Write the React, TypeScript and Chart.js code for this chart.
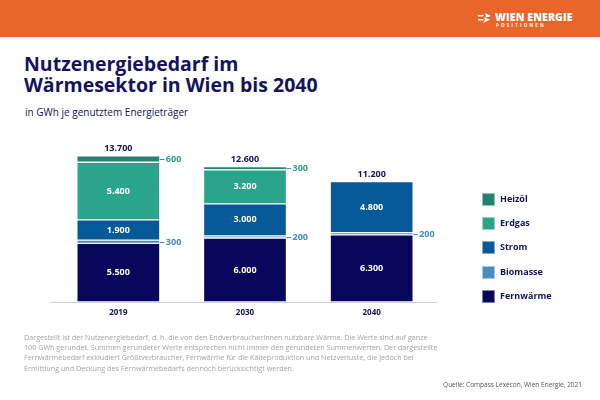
import React, { useEffect, useRef } from "react";
import { Chart, registerables } from "chart.js";

Chart.register(...registerables);

// ---- Data ----
const categories = ["2019", "2030", "2040"];
const fernwaerme = [5500, 6000, 6300];
const biomasse = [300, 200, 200];
const strom = [1900, 3000, 4800];
const erdgas = [5400, 3200, 0];
const heizoel = [600, 300, 0];
const totals = [13700, 12600, 11200];
const seriesNames = ["Fernwärme", "Biomasse", "Strom", "Erdgas", "Heizöl"];
const seriesValues = [fernwaerme, biomasse, strom, erdgas, heizoel];
const yMax = 15000;

// ---- Styles ----
const seriesColors = ["#07075c", "#4a8cc1", "#065a97", "#2aa58b", "#23836f"];
const outsideLabelColors = ["#07075c", "#3f8bc3", "#065a97", "#2aa58b", "#2a9e86"];
const NAVY = "#13135e";
const FONT = "'Open Sans', 'Noto Sans', sans-serif";

const fmt = (n: number) => String(n).replace(/\B(?=(\d{3})+(?!\d))/g, ".");

const labelPlugin = {
  id: "labelPlugin",
  beforeDatasetsDraw(chart: any) {
    const { ctx, chartArea } = chart;
    ctx.save();
    ctx.strokeStyle = "#cdd0ea";
    ctx.lineWidth = 1;
    ctx.beginPath();
    ctx.moveTo(chartArea.left - 5, chartArea.bottom + 0.5);
    ctx.lineTo(chartArea.right + 2, chartArea.bottom + 0.5);
    ctx.stroke();
    ctx.restore();
  },
  afterDatasetsDraw(chart: any) {
    const { ctx } = chart;
    ctx.save();
    ctx.textBaseline = "middle";
    const tops: number[] = categories.map(() => Infinity);
    chart.data.datasets.forEach((ds: any, d: number) => {
      const meta = chart.getDatasetMeta(d);
      meta.data.forEach((bar: any, i: number) => {
        const v = ds.data[i];
        if (!v) return;
        const p = bar.getProps(["x", "y", "base", "width"], true);
        tops[i] = Math.min(tops[i], p.y);
        const cy = (p.y + p.base) / 2;
        if (v >= 1000) {
          ctx.fillStyle = "#ffffff";
          ctx.font = `700 9px ${FONT}`;
          ctx.textAlign = "center";
          ctx.fillText(fmt(v), p.x, cy);
        } else {
          const x0 = p.x + p.width / 2;
          ctx.strokeStyle = outsideLabelColors[d];
          ctx.lineWidth = 1;
          ctx.beginPath();
          ctx.moveTo(x0, Math.round(cy) + 0.5);
          ctx.lineTo(x0 + 4.5, Math.round(cy) + 0.5);
          ctx.stroke();
          ctx.fillStyle = outsideLabelColors[d];
          ctx.font = `700 9px ${FONT}`;
          ctx.textAlign = "left";
          ctx.fillText(fmt(v), x0 + 6, cy + 0.5);
        }
      });
    });
    const meta0 = chart.getDatasetMeta(0);
    totals.forEach((t, i) => {
      const x = meta0.data[i].x;
      ctx.fillStyle = NAVY;
      ctx.font = `700 9px ${FONT}`;
      ctx.textAlign = "center";
      ctx.fillText(fmt(t), x, tops[i] - 7.5);
    });
    ctx.restore();
  },
};

function BarChart() {
  const ref = useRef<HTMLCanvasElement | null>(null);
  useEffect(() => {
    if (!ref.current) return;
    const chart = new Chart(ref.current, {
      type: "bar",
      data: {
        labels: categories,
        datasets: seriesNames.map((name, k) => ({
          label: name,
          data: seriesValues[k],
          backgroundColor: seriesColors[k],
          borderColor: "rgba(255,255,255,0.25)",
          borderWidth: 1,
          borderSkipped: false,
          barThickness: 83,
        })),
      },
      options: {
        animation: false,
        responsive: false,
        devicePixelRatio: 1,
        layout: { padding: { left: 55, right: 165, top: 142, bottom: 78 } },
        plugins: { legend: { display: false }, tooltip: { enabled: false } },
        scales: {
          x: {
            stacked: true,
            grid: { display: false, drawTicks: false },
            border: { display: false },
            ticks: {
              color: NAVY,
              font: { family: FONT, size: 8, weight: "bold" },
              padding: 6,
            },
            afterFit: (scale: any) => {
              scale.height = 20;
            },
          },
          y: {
            stacked: true,
            display: false,
            min: 0,
            max: yMax,
          },
        },
      },
      plugins: [labelPlugin],
    } as any);
    return () => chart.destroy();
  }, []);
  return (
    <canvas
      ref={ref}
      width={600}
      height={400}
      style={{ position: "absolute", left: 0, top: 0, width: 600, height: 400 }}
    />
  );
}

export default function App() {
  const legendOrder = [4, 3, 2, 1, 0];
  const legendCenters = [199, 223, 247, 272, 296];
  return (
    <div
      style={{
        position: "absolute",
        left: 0,
        top: 0,
        width: 600,
        height: 400,
        background: "#ffffff",
        overflow: "hidden",
        fontFamily: FONT,
      }}
    >
      <div
        style={{ position: "absolute", left: 0, top: 0, width: 600, height: 37, background: "#e9662a" }}
      />
      <svg
        style={{ position: "absolute", left: 478, top: 13 }}
        width={13}
        height={10}
        viewBox="0 0 13 10"
      >
        <polygon points="0,2 6,2 5,3.5 0,3.5" fill="#fff" />
        <polygon points="7,0 13,3 7,5 8,3" fill="#fff" />
        <polygon points="0,6 6,6 5,7.5 0,7.5" fill="#fff" />
        <polygon points="6,4.5 12,6.5 5,10 7,7" fill="#fff" />
      </svg>
      <div
        style={{
          position: "absolute",
          left: 495,
          top: 11,
          fontSize: 10.5,
          lineHeight: "13px",
          fontWeight: 800,
          color: "#fff",
          letterSpacing: 0.1,
          whiteSpace: "nowrap",
        }}
      >
        WIEN ENERGIE
      </div>
      <div
        style={{
          position: "absolute",
          left: 496,
          top: 22.5,
          fontSize: 4.5,
          lineHeight: "5px",
          fontWeight: 700,
          color: "#fff",
          letterSpacing: 2.2,
          whiteSpace: "nowrap",
        }}
      >
        POSITIONEN
      </div>
      <div
        style={{
          position: "absolute",
          left: 24,
          top: 53,
          fontSize: 19.5,
          lineHeight: "21px",
          fontWeight: 700,
          color: NAVY,
          whiteSpace: "nowrap",
        }}
      >
        Nutzenergiebedarf im
        <br />
        Wärmesektor in Wien bis 2040
      </div>
      <div
        style={{
          position: "absolute",
          left: 25,
          top: 105.5,
          fontSize: 10,
          lineHeight: "12px",
          color: NAVY,
          whiteSpace: "nowrap",
        }}
      >
        in GWh je genutztem Energieträger
      </div>
      <BarChart />
      {legendOrder.map((k, j) => (
        <React.Fragment key={k}>
          <div
            style={{
              position: "absolute",
              left: 482,
              top: legendCenters[j] - 6,
              width: 11,
              height: 11,
              background: seriesColors[k],
              border: "0.5px solid rgba(255,255,255,0.5)",
            }}
          />
          <div
            style={{
              position: "absolute",
              left: 500,
              top: legendCenters[j] - 6.5,
              fontSize: 9,
              lineHeight: "12px",
              fontWeight: 700,
              color: NAVY,
              whiteSpace: "nowrap",
            }}
          >
            {seriesNames[k]}
          </div>
        </React.Fragment>
      ))}
      <div
        style={{
          position: "absolute",
          left: 24,
          top: 331.5,
          fontSize: 7.2,
          lineHeight: "10.4px",
          color: "#a3a3ab",
          whiteSpace: "nowrap",
        }}
      >
        Dargestellt ist der Nutzenergiebedarf, d. h. die von den EndverbraucherInnen nutzbare Wärme. Die Werte sind auf ganze
        <br />
        100 GWh gerundet. Summen gerundeter Werte entsprechen nicht immer den gerundeten Summenwerten. Der dargestellte
        <br />
        Fernwärmebedarf exkludiert Größtverbraucher, Fernwärme für die Kälteproduktion und Netzverluste, die jedoch bei
        <br />
        Ermittlung und Deckung des Fernwärmebedarfs dennoch berücksichtigt werden.
      </div>
      <div
        style={{
          position: "absolute",
          right: 18,
          top: 381,
          fontSize: 6.5,
          lineHeight: "8px",
          color: "#55555c",
          whiteSpace: "nowrap",
        }}
      >
        Quelle: Compass Lexecon, Wien Energie, 2021
      </div>
    </div>
  );
}
